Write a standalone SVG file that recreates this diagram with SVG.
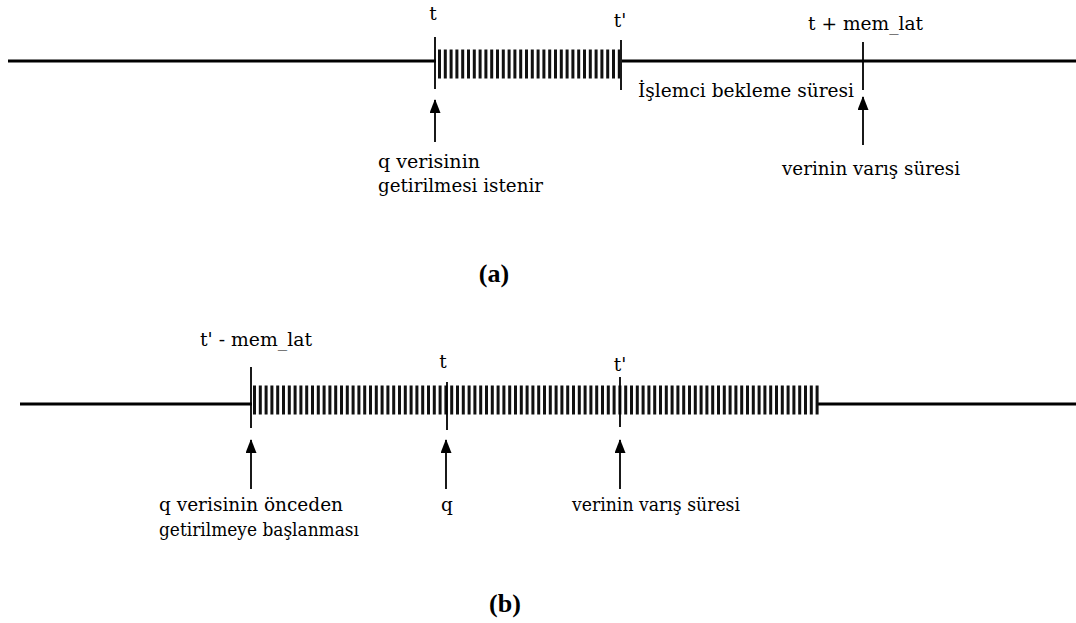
<svg xmlns="http://www.w3.org/2000/svg" width="1076" height="623" viewBox="0 0 1076 623">
  <style>
    .axis { stroke: #000; stroke-width: 3; fill: none; }
    .tick { stroke: #000; stroke-width: 1.8; fill: none; }
    .hatch { stroke: #111; stroke-width: 29; stroke-dasharray: 3 2.8; fill: none; }
    .arrow { stroke: #000; stroke-width: 1.8; fill: none; marker-end: url(#head); }
    .lbl { font-family: "DejaVu Serif", "Liberation Serif", serif; font-size: 18.5px; fill: #000; }
    .cap { font-family: "Liberation Serif", "DejaVu Serif", serif; font-size: 26px; font-weight: bold; fill: #000; }
  </style>
  <defs>
    <marker id="head" viewBox="0 0 14 11" refX="13" refY="5.5" markerWidth="14" markerHeight="11" orient="auto" markerUnits="userSpaceOnUse">
      <path d="M0,0 L14,5.5 L0,11 z" fill="#000"/>
    </marker>
  </defs>

  <!-- Timeline (a): demand fetch -->
  <g id="timeline-a">
    <line class="axis" x1="8" y1="61" x2="1076" y2="61"/>
    <rect x="436" y="48" width="186" height="32" fill="#fff"/>
    <line class="hatch" x1="438" y1="64" x2="620" y2="64"/>
    <line class="tick" x1="435" y1="37" x2="435" y2="89"/>
    <line class="tick" x1="621" y1="40" x2="621" y2="90"/>
    <line class="tick" x1="863" y1="42" x2="863" y2="90"/>
  </g>

  <g id="labels-a">
    <text class="lbl" x="433" y="20" text-anchor="middle">t</text>
    <text class="lbl" x="620" y="27" text-anchor="middle">t'</text>
    <text class="lbl" x="808" y="30" textLength="115" lengthAdjust="spacingAndGlyphs">t + mem_lat</text>
    <text class="lbl" x="638" y="97" textLength="216" lengthAdjust="spacingAndGlyphs">İşlemci bekleme süresi</text>
  </g>

  <g id="node-request-a">
    <text class="lbl" x="378" y="168" textLength="102" lengthAdjust="spacingAndGlyphs">q verisinin</text>
    <text class="lbl" x="378" y="192" textLength="165" lengthAdjust="spacingAndGlyphs">getirilmesi istenir</text>
  </g>

  <g id="node-arrival-a">
    <text class="lbl" x="782" y="175" textLength="178" lengthAdjust="spacingAndGlyphs">verinin varış süresi</text>
  </g>

  <text id="caption-a" class="cap" x="494" y="282" text-anchor="middle">(a)</text>

  <!-- Timeline (b): prefetch -->
  <g id="timeline-b">
    <line class="axis" x1="20" y1="404" x2="252" y2="404"/>
    <line class="axis" x1="818" y1="404" x2="1076" y2="404"/>
    <line class="hatch" x1="253" y1="400" x2="820" y2="400"/>
    <line class="tick" x1="251" y1="367" x2="251" y2="428"/>
    <line class="tick" x1="447" y1="382" x2="447" y2="430"/>
    <line class="tick" x1="620" y1="377" x2="620" y2="427"/>
  </g>

  <g id="labels-b">
    <text class="lbl" x="200" y="346" textLength="112" lengthAdjust="spacingAndGlyphs">t' - mem_lat</text>
    <text class="lbl" x="443" y="368" text-anchor="middle">t</text>
    <text class="lbl" x="620" y="371" text-anchor="middle">t'</text>
  </g>

  <g id="node-prefetch-b">
    <text class="lbl" x="159" y="511" textLength="184" lengthAdjust="spacingAndGlyphs">q verisinin önceden</text>
    <text class="lbl" x="159" y="536" textLength="200" lengthAdjust="spacingAndGlyphs">getirilmeye başlanması</text>
  </g>

  <g id="node-q-b">
    <text class="lbl" x="441" y="511">q</text>
  </g>

  <g id="node-arrival-b">
    <text class="lbl" x="572" y="511" textLength="168" lengthAdjust="spacingAndGlyphs">verinin varış süresi</text>
  </g>

  <text id="caption-b" class="cap" x="505" y="612" text-anchor="middle">(b)</text>

  <!-- Pointer arrows -->
  <g id="connectors">
    <line class="arrow" x1="435" y1="142" x2="435" y2="100"/>
    <line class="arrow" x1="863" y1="145" x2="863" y2="97"/>
    <line class="arrow" x1="251" y1="489" x2="251" y2="440"/>
    <line class="arrow" x1="446" y1="489" x2="446" y2="440"/>
    <line class="arrow" x1="620" y1="489" x2="620" y2="440"/>
  </g>
</svg>
